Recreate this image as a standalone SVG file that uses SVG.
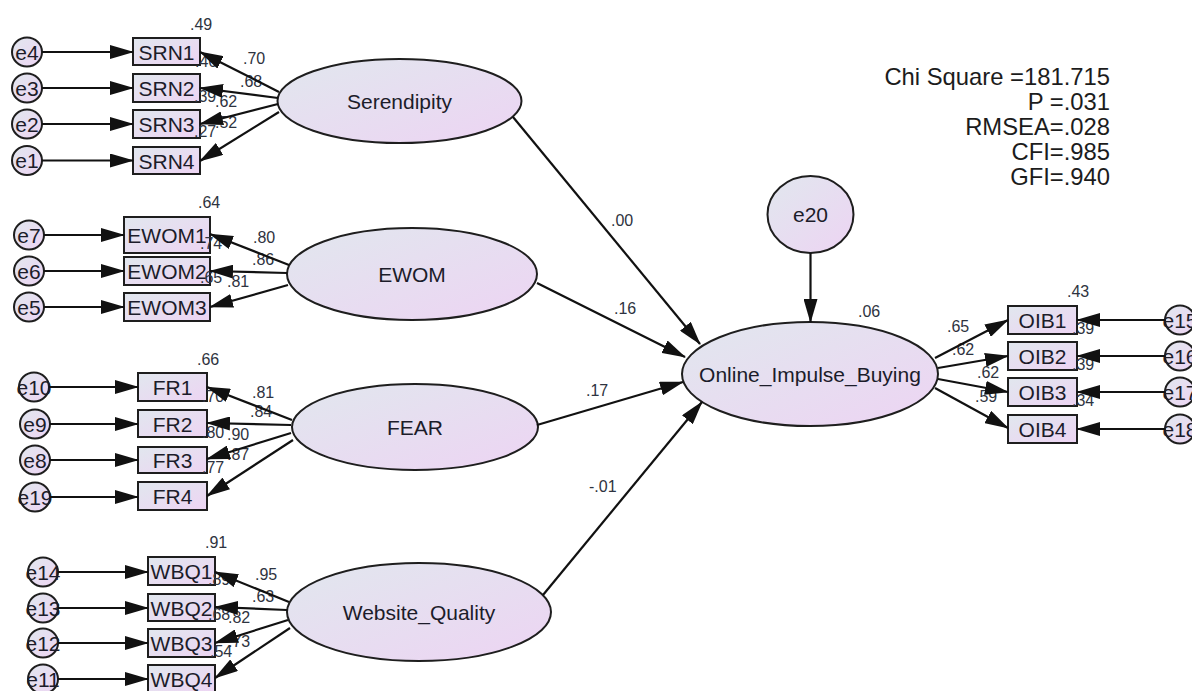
<svg xmlns="http://www.w3.org/2000/svg" width="1192" height="691" viewBox="0 0 1192 691">
<defs>
  <linearGradient id="fill" x1="0" y1="0" x2="1" y2="1">
    <stop offset="0" stop-color="#e1e7ee"/>
    <stop offset="1" stop-color="#edd4f3"/>
  </linearGradient>
  <marker id="arrow" markerUnits="userSpaceOnUse" markerWidth="24" markerHeight="14" refX="23" refY="7" orient="auto">
    <path d="M0,0 L24,7 L0,14 Z" fill="#111"/>
  </marker>
  <style>
    .shape{fill:url(#fill);stroke:#1e1e1e;stroke-width:2}
    .lbl{font-family:"Liberation Sans",Arial,sans-serif;font-size:21px;fill:#1c1c2a;text-anchor:middle}
    .num{font-family:"Liberation Sans",Arial,sans-serif;font-size:16px;fill:#2e3340}
    .fit{font-family:"Liberation Sans",Arial,sans-serif;font-size:23.8px;fill:#1c1c1c;text-anchor:end}
    .link{stroke:#111;stroke-width:2.2;fill:none;marker-end:url(#arrow)}
  </style>
</defs>
<rect width="1192" height="691" fill="#fff"/>

<!-- model fit summary -->
<g id="fit-indices">
  <text class="fit" x="1110" y="85">Chi Square =181.715</text>
  <text class="fit" x="1110" y="110">P =.031</text>
  <text class="fit" x="1110" y="135">RMSEA=.028</text>
  <text class="fit" x="1110" y="160">CFI=.985</text>
  <text class="fit" x="1110" y="185">GFI=.940</text>
</g>

<!-- Serendipity block -->
<g id="serendipity">
  <ellipse class="shape" cx="399.5" cy="101" rx="122" ry="42"/>
  <text class="lbl" x="399.5" y="109">Serendipity</text>
</g>
<g id="SRN1"><rect class="shape" x="133" y="38" width="67" height="27"/><text class="lbl" x="166.5" y="59.5">SRN1</text></g>
<g id="SRN2"><rect class="shape" x="133" y="74" width="67" height="28"/><text class="lbl" x="166.5" y="96">SRN2</text></g>
<g id="SRN3"><rect class="shape" x="133" y="110" width="67" height="28"/><text class="lbl" x="166.5" y="132">SRN3</text></g>
<g id="SRN4"><rect class="shape" x="133" y="147" width="67" height="27"/><text class="lbl" x="166.5" y="168.5">SRN4</text></g>
<g id="e4"><ellipse class="shape" cx="27" cy="52" rx="15" ry="14.5"/><text class="lbl" x="27" y="59.5">e4</text></g>
<g id="e3"><ellipse class="shape" cx="27" cy="88" rx="15" ry="14.5"/><text class="lbl" x="27" y="95.5">e3</text></g>
<g id="e2"><ellipse class="shape" cx="27" cy="124" rx="15" ry="14.5"/><text class="lbl" x="27" y="131.5">e2</text></g>
<g id="e1"><ellipse class="shape" cx="27" cy="160.5" rx="15" ry="14.5"/><text class="lbl" x="27" y="168">e1</text></g>

<!-- EWOM block -->
<g id="ewom">
  <ellipse class="shape" cx="412" cy="274" rx="125" ry="46"/>
  <text class="lbl" x="412" y="282">EWOM</text>
</g>
<g id="EWOM1"><rect class="shape" x="124" y="217" width="86" height="36"/><text class="lbl" x="167" y="243">EWOM1</text></g>
<g id="EWOM2"><rect class="shape" x="124" y="257" width="86" height="28"/><text class="lbl" x="167" y="279">EWOM2</text></g>
<g id="EWOM3"><rect class="shape" x="124" y="293" width="86" height="28"/><text class="lbl" x="167" y="315">EWOM3</text></g>
<g id="e7"><ellipse class="shape" cx="29" cy="235" rx="15" ry="14.5"/><text class="lbl" x="29" y="242.5">e7</text></g>
<g id="e6"><ellipse class="shape" cx="29" cy="271" rx="15" ry="14.5"/><text class="lbl" x="29" y="278.5">e6</text></g>
<g id="e5"><ellipse class="shape" cx="29" cy="307" rx="15" ry="14.5"/><text class="lbl" x="29" y="314.5">e5</text></g>

<!-- FEAR block -->
<g id="fear">
  <ellipse class="shape" cx="415" cy="427" rx="123" ry="43"/>
  <text class="lbl" x="415" y="435">FEAR</text>
</g>
<g id="FR1"><rect class="shape" x="138" y="373" width="69" height="28"/><text class="lbl" x="172.5" y="395">FR1</text></g>
<g id="FR2"><rect class="shape" x="138" y="410" width="69" height="27"/><text class="lbl" x="172.5" y="431.5">FR2</text></g>
<g id="FR3"><rect class="shape" x="138" y="447" width="69" height="26"/><text class="lbl" x="172.5" y="467.5">FR3</text></g>
<g id="FR4"><rect class="shape" x="138" y="482" width="69" height="28"/><text class="lbl" x="172.5" y="504">FR4</text></g>
<g id="e10"><ellipse class="shape" cx="34" cy="387" rx="15" ry="14.5"/><text class="lbl" x="34" y="394.5">e10</text></g>
<g id="e9"><ellipse class="shape" cx="35" cy="424" rx="15" ry="14.5"/><text class="lbl" x="35" y="431.5">e9</text></g>
<g id="e8"><ellipse class="shape" cx="35" cy="460" rx="15" ry="14.5"/><text class="lbl" x="35" y="467.5">e8</text></g>
<g id="e19"><ellipse class="shape" cx="35" cy="497" rx="15" ry="14.5"/><text class="lbl" x="35" y="504.5">e19</text></g>

<!-- Website_Quality block -->
<g id="website-quality">
  <ellipse class="shape" cx="419" cy="612" rx="132" ry="49"/>
  <text class="lbl" x="419" y="620">Website_Quality</text>
</g>
<g id="WBQ1"><rect class="shape" x="148" y="557" width="67" height="28"/><text class="lbl" x="181.5" y="579">WBQ1</text></g>
<g id="WBQ2"><rect class="shape" x="148" y="594" width="67" height="27"/><text class="lbl" x="181.5" y="615.5">WBQ2</text></g>
<g id="WBQ3"><rect class="shape" x="148" y="629" width="67" height="28"/><text class="lbl" x="181.5" y="651">WBQ3</text></g>
<g id="WBQ4"><rect class="shape" x="148" y="665" width="67" height="28"/><text class="lbl" x="181.5" y="687">WBQ4</text></g>
<g id="e14"><ellipse class="shape" cx="43" cy="572" rx="15" ry="14.5"/><text class="lbl" x="43" y="579.5">e14</text></g>
<g id="e13"><ellipse class="shape" cx="43" cy="608" rx="15" ry="14.5"/><text class="lbl" x="43" y="615.5">e13</text></g>
<g id="e12"><ellipse class="shape" cx="43" cy="643" rx="15" ry="14.5"/><text class="lbl" x="43" y="650.5">e12</text></g>
<g id="e11"><ellipse class="shape" cx="43" cy="679" rx="15" ry="14.5"/><text class="lbl" x="43" y="686.5">e11</text></g>

<!-- Online_Impulse_Buying block -->
<g id="online-impulse-buying">
  <ellipse class="shape" cx="810" cy="374" rx="128" ry="52"/>
  <text class="lbl" x="810" y="382">Online_Impulse_Buying</text>
</g>
<g id="e20"><ellipse class="shape" cx="810.5" cy="214.5" rx="43" ry="38.5"/><text class="lbl" x="810.5" y="222">e20</text></g>
<g id="OIB1"><rect class="shape" x="1008" y="306" width="69" height="28"/><text class="lbl" x="1042.5" y="328">OIB1</text></g>
<g id="OIB2"><rect class="shape" x="1008" y="342" width="69" height="28"/><text class="lbl" x="1042.5" y="364">OIB2</text></g>
<g id="OIB3"><rect class="shape" x="1008" y="378" width="69" height="28"/><text class="lbl" x="1042.5" y="400">OIB3</text></g>
<g id="OIB4"><rect class="shape" x="1008" y="415" width="69" height="28"/><text class="lbl" x="1042.5" y="437">OIB4</text></g>
<g id="e15"><ellipse class="shape" cx="1180" cy="320" rx="15" ry="14.5"/><text class="lbl" x="1180" y="327.5">e15</text></g>
<g id="e16"><ellipse class="shape" cx="1180" cy="356" rx="15" ry="14.5"/><text class="lbl" x="1180" y="363.5">e16</text></g>
<g id="e17"><ellipse class="shape" cx="1180" cy="392" rx="15" ry="14.5"/><text class="lbl" x="1180" y="399.5">e17</text></g>
<g id="e18"><ellipse class="shape" cx="1180" cy="429" rx="15" ry="14.5"/><text class="lbl" x="1180" y="436.5">e18</text></g>

<!-- estimates: loadings, path coefficients, squared multiple correlations -->
<g id="estimates">
  <text class="num" x="190" y="30">.49</text>
  <text class="num" x="195" y="67">.46</text>
  <text class="num" x="194" y="102">.39</text>
  <text class="num" x="194" y="137">.27</text>
  <text class="num" x="243" y="64">.70</text>
  <text class="num" x="240" y="87">.68</text>
  <text class="num" x="215" y="107">.62</text>
  <text class="num" x="215" y="128">.52</text>

  <text class="num" x="198" y="208">.64</text>
  <text class="num" x="200" y="249">.74</text>
  <text class="num" x="200" y="283">.65</text>
  <text class="num" x="253" y="243">.80</text>
  <text class="num" x="252" y="265">.86</text>
  <text class="num" x="227" y="287">.81</text>

  <text class="num" x="197" y="365">.66</text>
  <text class="num" x="202" y="402">.70</text>
  <text class="num" x="202" y="438">.80</text>
  <text class="num" x="202" y="473">.77</text>
  <text class="num" x="252" y="398">.81</text>
  <text class="num" x="250" y="417">.84</text>
  <text class="num" x="227" y="440">.90</text>
  <text class="num" x="227" y="460">.87</text>

  <text class="num" x="205" y="548">.91</text>
  <text class="num" x="208" y="585">.89</text>
  <text class="num" x="208" y="620">.68</text>
  <text class="num" x="210" y="657">.54</text>
  <text class="num" x="255" y="580">.95</text>
  <text class="num" x="252" y="602">.63</text>
  <text class="num" x="228" y="623">.82</text>
  <text class="num" x="228" y="647">.73</text>

  <text class="num" x="611" y="226">.00</text>
  <text class="num" x="614" y="314">.16</text>
  <text class="num" x="586" y="396">.17</text>
  <text class="num" x="589" y="492">-.01</text>
  <text class="num" x="858" y="317">.06</text>

  <text class="num" x="1067" y="297">.43</text>
  <text class="num" x="1072" y="334">.39</text>
  <text class="num" x="1072" y="370">.39</text>
  <text class="num" x="1072" y="406">.34</text>
  <text class="num" x="947" y="332">.65</text>
  <text class="num" x="952" y="355">.62</text>
  <text class="num" x="977" y="378">.62</text>
  <text class="num" x="975" y="402">.59</text>
</g>

<!-- connectors -->
<g id="connectors">
  <!-- error terms to indicators -->
  <path class="link" d="M42,52 H133"/>
  <path class="link" d="M42,88 H133"/>
  <path class="link" d="M42,124 H133"/>
  <path class="link" d="M42,160.5 H133"/>
  <path class="link" d="M44,235 H124"/>
  <path class="link" d="M44,271 H124"/>
  <path class="link" d="M44,307 H124"/>
  <path class="link" d="M49,387 H138"/>
  <path class="link" d="M50,424 H138"/>
  <path class="link" d="M50,460 H138"/>
  <path class="link" d="M50,497 H138"/>
  <path class="link" d="M58,572 H148"/>
  <path class="link" d="M58,608 H148"/>
  <path class="link" d="M58,643 H148"/>
  <path class="link" d="M58,679 H148"/>
  <path class="link" d="M1165,320 H1077"/>
  <path class="link" d="M1165,356 H1077"/>
  <path class="link" d="M1165,392 H1077"/>
  <path class="link" d="M1165,429 H1077"/>
  <!-- factor loadings -->
  <path class="link" d="M279,92 L200,52"/>
  <path class="link" d="M278,98 L200,88"/>
  <path class="link" d="M278,104 L200,124"/>
  <path class="link" d="M279,112 L200,161"/>
  <path class="link" d="M289,265 L210,234"/>
  <path class="link" d="M287,273 L210,271"/>
  <path class="link" d="M288,285 L210,307"/>
  <path class="link" d="M292,420 L207,387"/>
  <path class="link" d="M291,425 L207,423"/>
  <path class="link" d="M291,433 L207,459"/>
  <path class="link" d="M293,440 L207,496"/>
  <path class="link" d="M289,602 L215,572"/>
  <path class="link" d="M287,610 L215,607"/>
  <path class="link" d="M288,620 L215,643"/>
  <path class="link" d="M290,628 L215,678"/>
  <path class="link" d="M935,358 L1008,320"/>
  <path class="link" d="M938,368 L1008,356"/>
  <path class="link" d="M938,379 L1008,392"/>
  <path class="link" d="M935,388 L1008,428"/>
  <!-- structural paths -->
  <path class="link" d="M513,117 L700,344"/>
  <path class="link" d="M537,283 L685,357"/>
  <path class="link" d="M537,425 L683,382"/>
  <path class="link" d="M543,595 L702,402"/>
  <path class="link" d="M810.5,253 L810.5,322"/>
</g>
</svg>
